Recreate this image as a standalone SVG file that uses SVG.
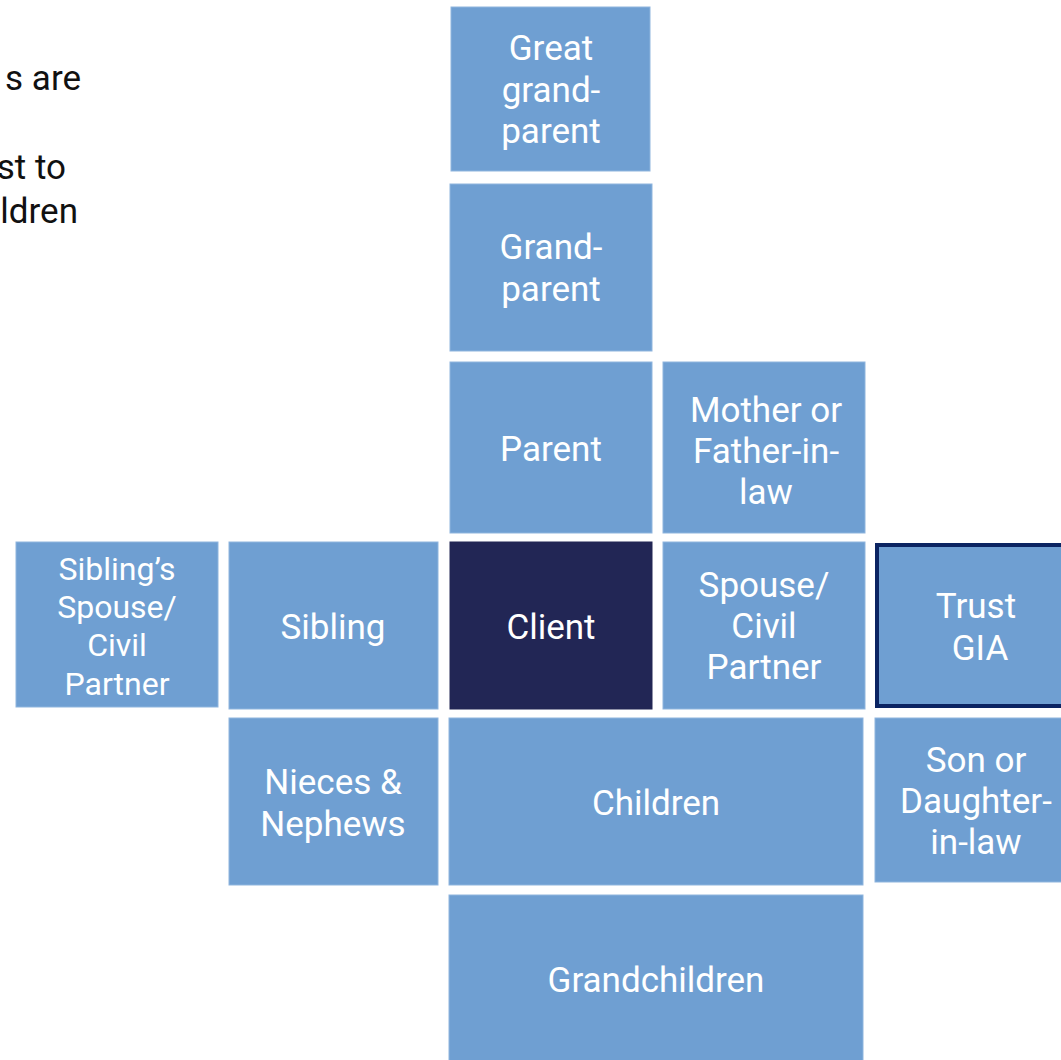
<svg xmlns="http://www.w3.org/2000/svg" width="1061" height="1060" viewBox="0 0 1061 1060">
<style>
.box{fill:#6f9fd2;stroke:#8fb5de;stroke-width:1}
.dark{fill:#222655;stroke:#222655}
.lbl{font-family:Roboto,"Liberation Sans",sans-serif;font-size:35px;fill:#ffffff;text-anchor:middle}
.sm{font-size:32px}
.note{font-family:Roboto,"Liberation Sans",sans-serif;font-size:35px;fill:#111111;text-anchor:end}
</style>
<rect width="1061" height="1060" fill="#ffffff"/>
<g id="note">
<text class="note" x="81" y="90">s are</text>
<text class="note" x="66" y="179">st to</text>
<text class="note" x="78" y="223">ldren</text>
</g>
<g id="great-grandparent"><rect class="box" x="451" y="7" width="199" height="164"/><text class="lbl" x="551" y="60">Great</text><text class="lbl" x="551" y="102">grand-</text><text class="lbl" x="551" y="143">parent</text></g>
<g id="grandparent"><rect class="box" x="450" y="184" width="202" height="167"/><text class="lbl" x="551" y="259">Grand-</text><text class="lbl" x="551" y="301">parent</text></g>
<g id="parent"><rect class="box" x="450" y="362" width="202" height="171"/><text class="lbl" x="551" y="461">Parent</text></g>
<g id="parent-in-law"><rect class="box" x="663" y="362" width="202" height="171"/><text class="lbl" x="766" y="422">Mother or</text><text class="lbl" x="766" y="463">Father-in-</text><text class="lbl" x="766" y="504">law</text></g>
<g id="siblings-spouse"><rect class="box" x="16" y="542" width="202" height="165"/><text class="lbl sm" x="117" y="580">Sibling’s</text><text class="lbl sm" x="117" y="618">Spouse/</text><text class="lbl sm" x="117" y="656">Civil</text><text class="lbl sm" x="117" y="695">Partner</text></g>
<g id="sibling"><rect class="box" x="229" y="542" width="209" height="167"/><text class="lbl" x="333" y="639">Sibling</text></g>
<g id="client"><rect class="box dark" x="450" y="542" width="202" height="167"/><text class="lbl" x="551" y="639">Client</text></g>
<g id="spouse"><rect class="box" x="663" y="542" width="202" height="167"/><text class="lbl" x="764" y="597">Spouse/</text><text class="lbl" x="764" y="638">Civil</text><text class="lbl" x="764" y="679">Partner</text></g>
<g id="trust-gia"><rect x="877" y="545" width="190" height="161" fill="#6f9fd2" stroke="#0b2462" stroke-width="4"/><text class="lbl" x="976" y="618">Trust</text><text class="lbl" x="980" y="660">GIA</text></g>
<g id="nieces-nephews"><rect class="box" x="229" y="718" width="209" height="167"/><text class="lbl" x="333" y="794">Nieces &amp;</text><text class="lbl" x="333" y="836">Nephews</text></g>
<g id="children"><rect class="box" x="449" y="718" width="414" height="167"/><text class="lbl" x="656" y="815">Children</text></g>
<g id="son-daughter-in-law"><rect class="box" x="875" y="718" width="190" height="164"/><text class="lbl" x="976" y="772">Son or</text><text class="lbl" x="976" y="813">Daughter-</text><text class="lbl" x="976" y="854">in-law</text></g>
<g id="grandchildren"><rect class="box" x="449" y="895" width="414" height="170"/><text class="lbl" x="656" y="992">Grandchildren</text></g>
<g id="connectors"></g>
</svg>
